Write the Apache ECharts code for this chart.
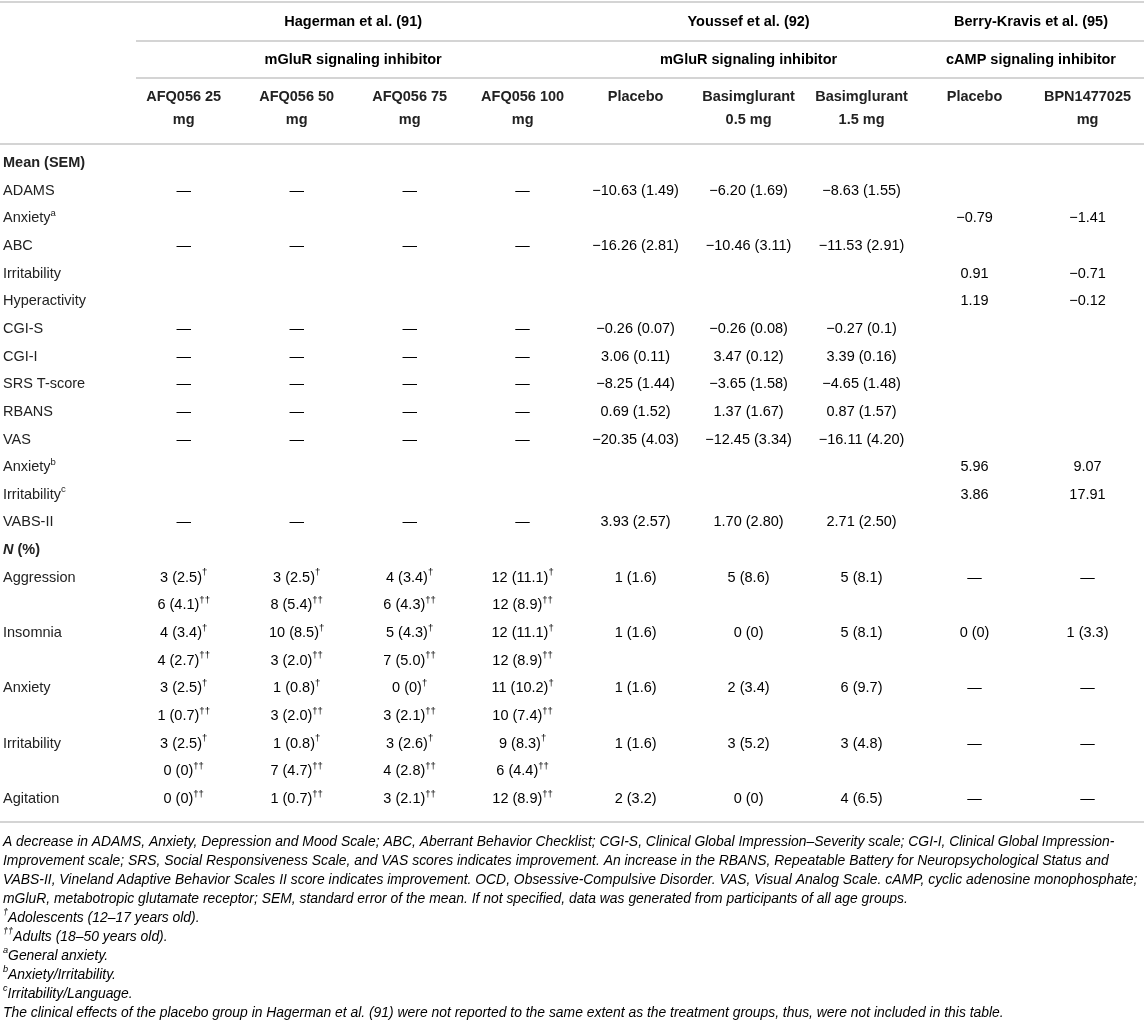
<!DOCTYPE html>
<html>
<head>
<meta charset="utf-8">
<script src="https://cdn.jsdelivr.net/npm/echarts@6/dist/echarts.min.js"></script>
<style>html,body{margin:0;padding:0;background:#fff}#c{width:1144px;height:1031px}</style>
</head>
<body>
<div id="c"></div>
<script>
// ---------- DATA ----------
const columns = ['AFQ056 25 mg','AFQ056 50 mg','AFQ056 75 mg','AFQ056 100 mg','Placebo (Youssef)','Basimglurant 0.5 mg','Basimglurant 1.5 mg','Placebo (Berry-Kravis)','BPN1477025 mg'];
const armLabels = ['AFQ056 25\nmg','AFQ056 50\nmg','AFQ056 75\nmg','AFQ056 100\nmg','Placebo','Basimglurant\n0.5 mg','Basimglurant\n1.5 mg','Placebo','BPN1477025\nmg'];
const studies = ['Hagerman et al. (91)','Youssef et al. (92)','Berry-Kravis et al. (95)'];
const studyFirstCol = [0,4,7];
const studyLastCol = [3,6,8];
const drugClasses = ['mGluR signaling inhibitor','mGluR signaling inhibitor','cAMP signaling inhibitor'];
const rowLabels = ['Mean (SEM)','ADAMS','Anxiety','ABC','Irritability','Hyperactivity','CGI-S','CGI-I','SRS T-score','RBANS','VAS','Anxiety','Irritability','VABS-II','N (%)','Aggression','','Insomnia','','Anxiety','','Irritability','','Agitation'];
const rowSup = {2:'a',11:'b',12:'c'};
const D = '\u2014';
const afq25  = [null,D,null,D,null,null,D,D,D,D,D,null,null,D,null,'3 (2.5)†','6 (4.1)††','4 (3.4)†','4 (2.7)††','3 (2.5)†','1 (0.7)††','3 (2.5)†','0 (0)††','0 (0)††'];
const afq50  = [null,D,null,D,null,null,D,D,D,D,D,null,null,D,null,'3 (2.5)†','8 (5.4)††','10 (8.5)†','3 (2.0)††','1 (0.8)†','3 (2.0)††','1 (0.8)†','7 (4.7)††','1 (0.7)††'];
const afq75  = [null,D,null,D,null,null,D,D,D,D,D,null,null,D,null,'4 (3.4)†','6 (4.3)††','5 (4.3)†','7 (5.0)††','0 (0)†','3 (2.1)††','3 (2.6)†','4 (2.8)††','3 (2.1)††'];
const afq100 = [null,D,null,D,null,null,D,D,D,D,D,null,null,D,null,'12 (11.1)†','12 (8.9)††','12 (11.1)†','12 (8.9)††','11 (10.2)†','10 (7.4)††','9 (8.3)†','6 (4.4)††','12 (8.9)††'];
const ysPlacebo = [null,'−10.63 (1.49)',null,'−16.26 (2.81)',null,null,'−0.26 (0.07)','3.06 (0.11)','−8.25 (1.44)','0.69 (1.52)','−20.35 (4.03)',null,null,'3.93 (2.57)',null,'1 (1.6)',null,'1 (1.6)',null,'1 (1.6)',null,'1 (1.6)',null,'2 (3.2)'];
const bas05 = [null,'−6.20 (1.69)',null,'−10.46 (3.11)',null,null,'−0.26 (0.08)','3.47 (0.12)','−3.65 (1.58)','1.37 (1.67)','−12.45 (3.34)',null,null,'1.70 (2.80)',null,'5 (8.6)',null,'0 (0)',null,'2 (3.4)',null,'3 (5.2)',null,'0 (0)'];
const bas15 = [null,'−8.63 (1.55)',null,'−11.53 (2.91)',null,null,'−0.27 (0.1)','3.39 (0.16)','−4.65 (1.48)','0.87 (1.57)','−16.11 (4.20)',null,null,'2.71 (2.50)',null,'5 (8.1)',null,'5 (8.1)',null,'6 (9.7)',null,'3 (4.8)',null,'4 (6.5)'];
const bkPlacebo = [null,null,'−0.79',null,'0.91','1.19',null,null,null,null,null,'5.96','3.86',null,null,D,null,'0 (0)',null,D,null,D,null,D];
const bpn = [null,null,'−1.41',null,'−0.71','−0.12',null,null,null,null,null,'9.07','17.91',null,null,D,null,'1 (3.3)',null,D,null,D,null,D];
const footnotes = [
  'A decrease in ADAMS, Anxiety, Depression and Mood Scale; ABC, Aberrant Behavior Checklist; CGI-S, Clinical Global Impression–Severity scale; CGI-I, Clinical Global Impression-',
  'Improvement scale; SRS, Social Responsiveness Scale, and VAS scores indicates improvement. An increase in the RBANS, Repeatable Battery for Neuropsychological Status and',
  'VABS-II, Vineland Adaptive Behavior Scales II score indicates improvement. OCD, Obsessive-Compulsive Disorder. VAS, Visual Analog Scale. cAMP, cyclic adenosine monophosphate;',
  'mGluR, metabotropic glutamate receptor; SEM, standard error of the mean. If not specified, data was generated from participants of all age groups.',
  '^†Adolescents (12–17 years old).',
  '^††Adults (18–50 years old).',
  '^aGeneral anxiety.',
  '^bAnxiety/Irritability.',
  '^cIrritability/Language.',
  'The clinical effects of the placebo group in Hagerman et al. (91) were not reported to the same extent as the treatment groups, thus, were not included in this table.'
];

// ---------- BUILD ----------
const colData = [afq25, afq50, afq75, afq100, ysPlacebo, bas05, bas15, bkPlacebo, bpn];
const cells = [];
colData.forEach((arr, c) => arr.forEach((t, r) => { if (t) cells.push({c, r, t}); }));

const FONT = '"Liberation Sans", Arial, Helvetica, sans-serif';
const TXT = '#222222';
const REF = '#8a8a8a';
const BS = 14.5;

function mkRich(size, weight, style) {
  return {
    n: {fontSize: size, fontFamily: FONT, fontWeight: weight, fontStyle: style, color: TXT, lineHeight: 20},
    b: {fontSize: size, fontFamily: FONT, fontWeight: 'bold', fontStyle: style, color: TXT, lineHeight: 20},
    bi: {fontSize: size, fontFamily: FONT, fontWeight: 'bold', fontStyle: 'italic', color: TXT, lineHeight: 20},
    r: {fontSize: size, fontFamily: FONT, fontWeight: weight, fontStyle: style, color: REF, lineHeight: 20},
    s: {fontSize: size * 0.66, fontFamily: FONT, fontWeight: weight, fontStyle: style, color: TXT, lineHeight: size * 0.66, verticalAlign: 'top'}
  };
}
const cellRich = mkRich(BS, 'normal', 'normal');
const headRich = mkRich(BS, 'bold', 'normal');
const noteRich = mkRich(13.9, 'normal', 'italic');

function cellText(t) {
  const m = t.match(/^(.*?)(†*)$/);
  return '{n|' + m[1] + '}' + (m[2] ? '{s|' + m[2] + '}' : '');
}
function refText(t, tok) {
  const m = t.match(/^(.*\()(\d+)(\).*)$/);
  if (!m) return '{' + tok + '|' + t + '}';
  return '{' + tok + '|' + m[1] + '}{r|' + m[2] + '}{' + tok + '|' + m[3] + '}';
}
function rowText(i) {
  const l = rowLabels[i];
  if (!l) return '';
  if (l === 'Mean (SEM)') return '{b|Mean (SEM)}';
  if (l === 'N (%)') return '{bi|N}{b| (%)}';
  return '{n|' + l + '}' + (rowSup[i] ? '{s|' + rowSup[i] + '}' : '');
}
function noteText(t) {
  if (t[0] === '^') {
    const m = t.slice(1).match(/^(†+|[abc])(.*)$/);
    return '{s|' + m[1] + '}{n|' + m[2] + '}';
  }
  return refText(t, 'n');
}

const headers = [];
studies.forEach((s, i) => {
  headers.push({c0: studyFirstCol[i], c1: studyLastCol[i], level: 0, text: s});
  headers.push({c0: studyFirstCol[i], c1: studyLastCol[i], level: 1, text: drugClasses[i]});
});
armLabels.forEach((a, j) => headers.push({c0: j, c1: j, level: 2, text: a}));
const headerY = [22, 60, 85.5];

const LINE = '#c6c6c6';
const W = 1144;
function hline(y, x1) {
  return {type: 'line', silent: true, shape: {x1: x1, y1: y, x2: W, y2: y}, style: {stroke: LINE, lineWidth: 1.6}};
}

const graphics = [hline(2, 0), hline(41, 136), hline(78, 136), hline(144, 0), hline(822, 0)];
footnotes.forEach((f, k) => {
  graphics.push({type: 'text', silent: true, x: 3, y: 842 + 19 * k,
    style: {text: noteText(f), rich: noteRich, align: 'left', verticalAlign: 'middle'}});
});

const chart = echarts.init(document.getElementById('c'), null, {renderer: 'canvas'});
chart.setOption({
  animation: false,
  backgroundColor: '#ffffff',
  grid: {left: 127.2, top: 149.2, width: 1022.4, height: 663.6, containLabel: false},
  xAxis: {type: 'category', data: columns, show: false},
  yAxis: {
    type: 'category', inverse: true,
    data: rowLabels.map((_, i) => 'r' + i),
    axisLine: {show: false}, axisTick: {show: false}, splitLine: {show: false},
    axisLabel: {interval: 0, align: 'left', margin: 124.2, formatter: (v, i) => rowText(i), rich: cellRich}
  },
  graphic: graphics,
  series: [
    {
      type: 'custom', name: 'cells', silent: true,
      data: cells.map(c => [c.c, c.r]),
      renderItem: (params, api) => {
        const p = api.coord([api.value(0), api.value(1)]);
        return {type: 'text', x: p[0], y: p[1],
          style: {text: cellText(cells[params.dataIndex].t), rich: cellRich, align: 'center', verticalAlign: 'middle'}};
      }
    },
    {
      type: 'custom', name: 'headers', silent: true,
      data: headers.map(h => [h.c0, h.c1, h.level]),
      encode: {x: [0, 1], y: 2},
      renderItem: (params, api) => {
        const h = headers[params.dataIndex];
        const a = api.coord([api.value(0), 0]);
        const b = api.coord([api.value(1), 0]);
        const cx = (a[0] + b[0]) / 2;
        if (h.level === 2) {
          return {type: 'text', x: cx, y: headerY[2],
            style: {text: h.text, fontSize: BS, fontFamily: FONT, fontWeight: 'bold', fill: TXT,
              lineHeight: 23, align: 'center', verticalAlign: 'top'}};
        }
        return {type: 'text', x: cx, y: headerY[h.level],
          style: {text: refText(h.text, 'b'), rich: headRich, align: 'center', verticalAlign: 'middle'}};
      }
    }
  ]
});
</script>
</body>
</html>
